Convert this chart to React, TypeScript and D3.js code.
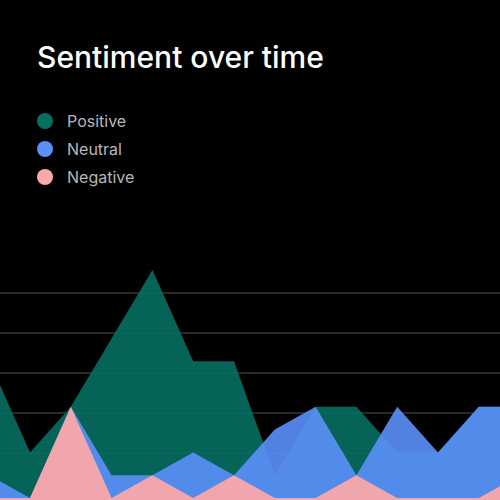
import { scaleLinear, area, curveLinear } from "d3";

// periods along the x axis (no labels shown)
const periods = ["P1", "P2", "P3", "P4", "P5", "P6", "P7", "P8", "P9", "P10", "P11", "P12", "P13", "P14"];

// series values
const positive = [6, 2, 4, 7, 10, 6, 6, 1, 4, 4, 2, 2, 4, 4];
const neutral = [1, 0, 4, 1, 1, 2, 1, 3, 4, 1, 4, 2, 4, 4];
const negative = [0, 0, 4, 0, 1, 0, 1, 0, 0, 1, 0, 0, 0, 1];

const seriesNames = ["Positive", "Neutral", "Negative"];
const seriesColors = ["#056f61", "#5b8ff9", "#ffa8a8"];
const gridTicks = [1, 2, 3, 4, 5];

const W = 500;
const H = 500;

const App = () => {
  const xScale = scaleLinear()
    .domain([0, periods.length - 1])
    .range([-10.8, 519.6]);
  const yScale = scaleLinear().domain([0, 10]).range([498, 270]);
  const gridScale = scaleLinear().domain([0, 5]).range([493, 293]);

  const makeArea = area<number>()
    .x((d, i) => xScale(i))
    .y0(H)
    .y1((d) => yScale(d))
    .curve(curveLinear);

  const series = [positive, neutral, negative];

  return (
    <div style={{ position: "fixed", left: 0, top: 0, width: W, height: H, background: "#000" }}>
      <svg width={W} height={H} viewBox={`0 0 ${W} ${H}`} style={{ display: "block" }}>
        <rect width={W} height={H} fill="#000" />
        <text
          x={37}
          y={68}
          fill="#fff"
          fontFamily="Inter, 'Noto Sans', sans-serif"
          fontSize={30}
          fontWeight={500}
        >
          Sentiment over time
        </text>
        {/* legend */}
        {seriesNames.map((name, i) => (
          <g key={name} transform={`translate(45, ${121 + i * 28})`}>
            <circle r={8} fill={seriesColors[i]} />
            <text
              x={22}
              y={6}
              fill="#b8b8b8"
              fontFamily="Inter, 'Noto Sans', sans-serif"
              fontSize={16}
            >
              {name}
            </text>
          </g>
        ))}
        {/* grid */}
        {gridTicks.map((t) => (
          <line
            key={t}
            x1={0}
            x2={W}
            y1={gridScale(t)}
            y2={gridScale(t)}
            stroke="#505050"
            strokeWidth={1}
          />
        ))}
        {/* areas, overlapping */}
        {series.map((s, i) => (
          <path
            key={seriesNames[i]}
            d={makeArea(s) || ""}
            fill={seriesColors[i]}
            fillOpacity={i === 2 ? 0.92 : 0.9}
          />
        ))}
      </svg>
    </div>
  );
};

export default App;
